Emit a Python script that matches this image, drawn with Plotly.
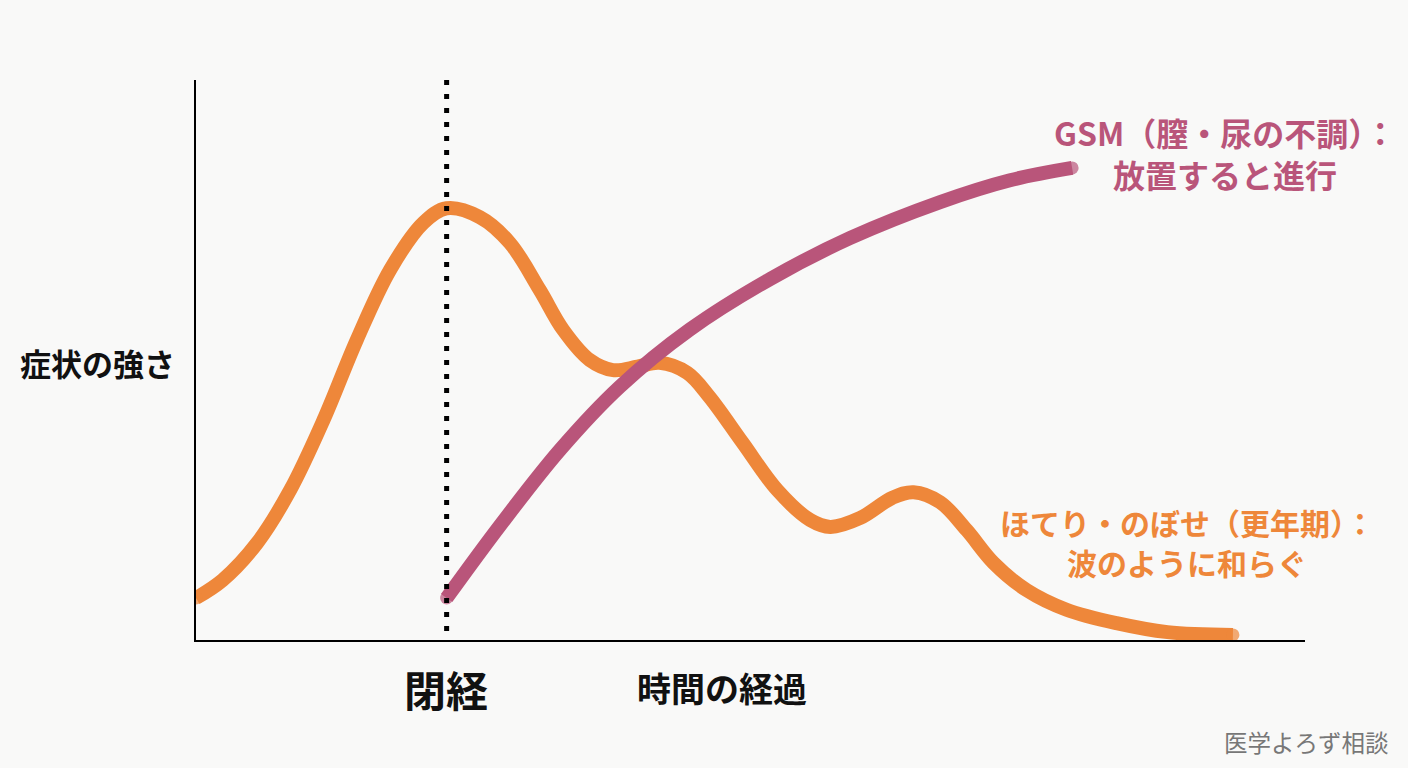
import plotly.graph_objects as go

# ---- data (time axis 0-100, intensity 0-100) ----
menopause_x = 22.6

hot_x = [0, 2.4, 5.5, 8.5, 11.5, 14.5, 17.5, 20.5, 22.6, 25.6, 28.3, 31.0, 33.1, 35.5, 37.6,
         39.8, 41.8, 44.3, 46.3, 49.3, 52.4, 55.4, 57.2, 59.9, 62.8, 64.7, 67.1, 69.5, 71.9,
         74.9, 78.5, 83.0, 87.6, 93.5]
hot_y = [7.5, 10.7, 17.3, 26.8, 39.3, 53.6, 66.1, 74.5, 77.1, 75.5, 70.9, 62.5, 55.4, 50.0, 48.2,
         48.8, 49.5, 47.7, 43.4, 35.2, 26.8, 21.4, 20.2, 21.8, 25.4, 26.4, 24.6, 19.6, 13.8,
         8.9, 5.4, 3.0, 1.4, 0.9]

gsm_x = [22.6, 27.4, 32.8, 38.2, 44.5, 51.8, 59.0, 67.1, 73.4, 79.0]
gsm_y = [7.5, 20.4, 33.9, 45.2, 55.4, 64.5, 71.8, 78.2, 82.1, 84.3]

ORANGE = "#EE873A"
MAGENTA = "#B9557A"
BG = "#F9F9F8"
FONT = "Noto Sans CJK JP"

W, H = 1408, 768
ML, MR, MT, MB = 196, 103, 80, 128


def px(x, y):
    """pixel -> paper coords"""
    return (x - ML) / (W - ML - MR), (H - MB - y) / (H - MT - MB)


def end_sizes(n, s):
    return [s] + [0] * (n - 2) + [s]


fig = go.Figure()
fig.add_trace(go.Scatter(x=hot_x, y=hot_y, mode="lines+markers",
                         line=dict(color=ORANGE, width=14, shape="spline", smoothing=1.0),
                         marker=dict(color=ORANGE, size=end_sizes(len(hot_x), 13), line=dict(width=0)),
                         hoverinfo="skip", showlegend=False))
fig.add_trace(go.Scatter(x=gsm_x, y=gsm_y, mode="lines+markers",
                         line=dict(color=MAGENTA, width=14, shape="spline", smoothing=1.0),
                         marker=dict(color=MAGENTA, size=end_sizes(len(gsm_x), 13), line=dict(width=0)),
                         hoverinfo="skip", showlegend=False))

fig.add_shape(type="line", xref="x", yref="paper", x0=menopause_x, x1=menopause_x, y0=1, y1=0,
              line=dict(color="black", width=5, dash="5px,9px"), layer="above")

annots = [
    ("<b>症状の強さ</b>", 97, 362, 31, "#111111"),
    ("<b>閉経</b>", 446, 688, 42, "#111111"),
    ("<b>時間の経過</b>", 722, 687, 34, "#111111"),
    ("<b>GSM（膣・尿の不調）：</b>", 1225, 132, 32, MAGENTA),
    ("<b>放置すると進行</b>", 1225, 174, 32, MAGENTA),
    ("<b>ほてり・のぼせ（更年期）：</b>", 1187, 522, 30, ORANGE),
    ("<b>波のように和らぐ</b>", 1187, 562, 30, ORANGE),
    ("医学よろず相談", 1306, 742, 23.5, "#777777"),
]
for text, x, y, size, color in annots:
    ax, ay = px(x, y)
    fig.add_annotation(text=text, x=ax, y=ay, xref="paper", yref="paper",
                       showarrow=False, xanchor="center", yanchor="middle",
                       font=dict(family=FONT, size=size, color=color))

fig.update_layout(
    width=W, height=H,
    margin=dict(l=ML, r=MR, t=MT, b=MB),
    paper_bgcolor=BG, plot_bgcolor=BG,
    font=dict(family=FONT),
    xaxis=dict(range=[0, 100], showline=True, linecolor="black", linewidth=2,
               showgrid=False, zeroline=False, showticklabels=False, ticks="", fixedrange=True),
    yaxis=dict(range=[0, 100], showline=True, linecolor="black", linewidth=2,
               showgrid=False, zeroline=False, showticklabels=False, ticks="", fixedrange=True),
)

fig.write_html("out.html", config={"displayModeBar": False})
